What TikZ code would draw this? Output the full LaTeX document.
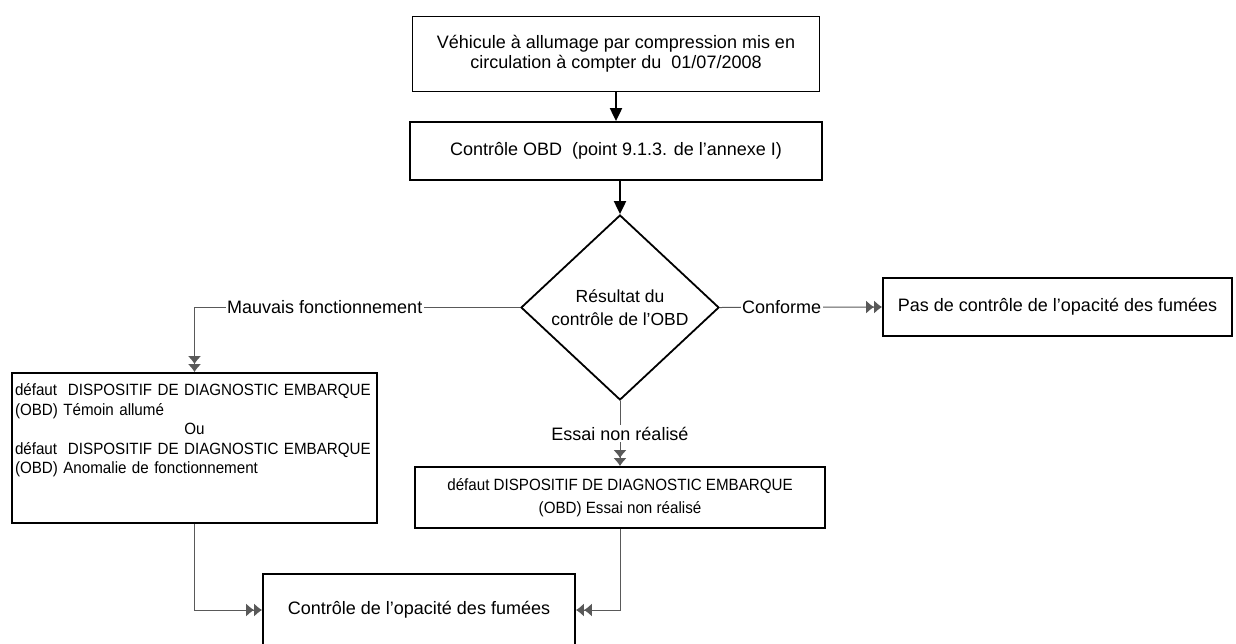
\documentclass[tikz,border=0pt]{standalone}
\usepackage{fontspec}
\setmainfont{Liberation Sans}
\newfontfamily\narrowfont[FakeStretch=0.93]{Liberation Sans}
\usetikzlibrary{arrows.meta,shapes.geometric}

\begin{document}
\begin{tikzpicture}[x=1pt,y=-1pt,
  box/.style={draw,line width=1.8pt,inner sep=3pt,align=center,font=\fontsize{18}{20}\selectfont},
  smallbox/.style={box,font=\narrowfont\fontsize{16.3}{19.5}\selectfont},
  decision/.style={draw,diamond,line width=1.8pt,inner sep=0pt,align=center,font=\fontsize{17.5}{23}\selectfont},
  main/.style={line width=2pt,-{Triangle[length=13pt,width=12pt]}},
  branch/.style={draw=gray!70!black,line width=1pt,-{Latex[length=8pt,width=13pt]Latex[length=8pt,width=13pt]}},
  lbl/.style={fill=white,inner sep=1.5pt,font=\fontsize{18}{20}\selectfont}]

% page size
\useasboundingbox (0,0) rectangle (1236,643);

% Define coordinates
\coordinate (pveh) at (616,54);
\coordinate (pobd) at (616,151);
\coordinate (pres) at (620,307.5);
\coordinate (ppas) at (1057.5,307);
\coordinate (pdmf) at (194.5,448);
\coordinate (pnrl) at (620,497.5);
\coordinate (popc) at (419,610);

% boxes
\node[box,minimum width=407pt,minimum height=75pt] (veh) at (pveh)
  {V\'ehicule \`a allumage par compression mis en\\circulation \`a compter du~ 01/07/2008};
\node[box,minimum width=412pt,minimum height=58pt] (obd) at (pobd)
  {Contr\^ole OBD~ (point 9.1.3. de l'annexe I)};
\node[decision,minimum width=198pt,minimum height=185pt] (res) at (pres)
  {R\'esultat du\\contr\^ole de l'OBD};
\node[box,minimum width=349pt,minimum height=58pt] (pas) at (ppas)
  {Pas de contr\^ole de l'opacit\'e des fum\'ees};
\node[smallbox,align=left,text width=359pt,minimum height=150pt] (dmf) at (pdmf)
  {d\'efaut~ DISPOSITIF DE DIAGNOSTIC EMBARQUE\\(OBD) T\'emoin allum\'e\\
   \makebox[\linewidth]{Ou}\\
   d\'efaut~ DISPOSITIF DE DIAGNOSTIC EMBARQUE\\(OBD) Anomalie de fonctionnement\\~\\~};
\node[smallbox,minimum width=410pt,minimum height=61pt,font=\narrowfont\fontsize{16.3}{23}\selectfont] (nrl) at (pnrl)
  {d\'efaut DISPOSITIF DE DIAGNOSTIC EMBARQUE\\(OBD) Essai non r\'ealis\'e};
\node[box,minimum width=312pt,minimum height=72pt] (opc) at (popc)
  {Contr\^ole de l'opacit\'e des fum\'ees};

% main flow
\draw[main] (veh.south) -- (obd.north);
\draw[main] (obd.south -| res.north) -- (res.north);

% branches out of the decision
\draw[branch] (res.west) -| node[lbl,pos=0.3] {Mauvais fonctionnement} (dmf.north);
\draw[branch] (res.east) -- node[lbl,pos=0.38] {Conforme} (pas.west);
\draw[branch] (res.south) -- node[lbl,pos=0.5] {Essai non r\'ealis\'e} (nrl.north);

% both faults lead to the smoke test
\draw[branch] (dmf.south) |- (opc.west);
\draw[branch] (nrl.south) |- (opc.east);

\end{tikzpicture}
\end{document}
